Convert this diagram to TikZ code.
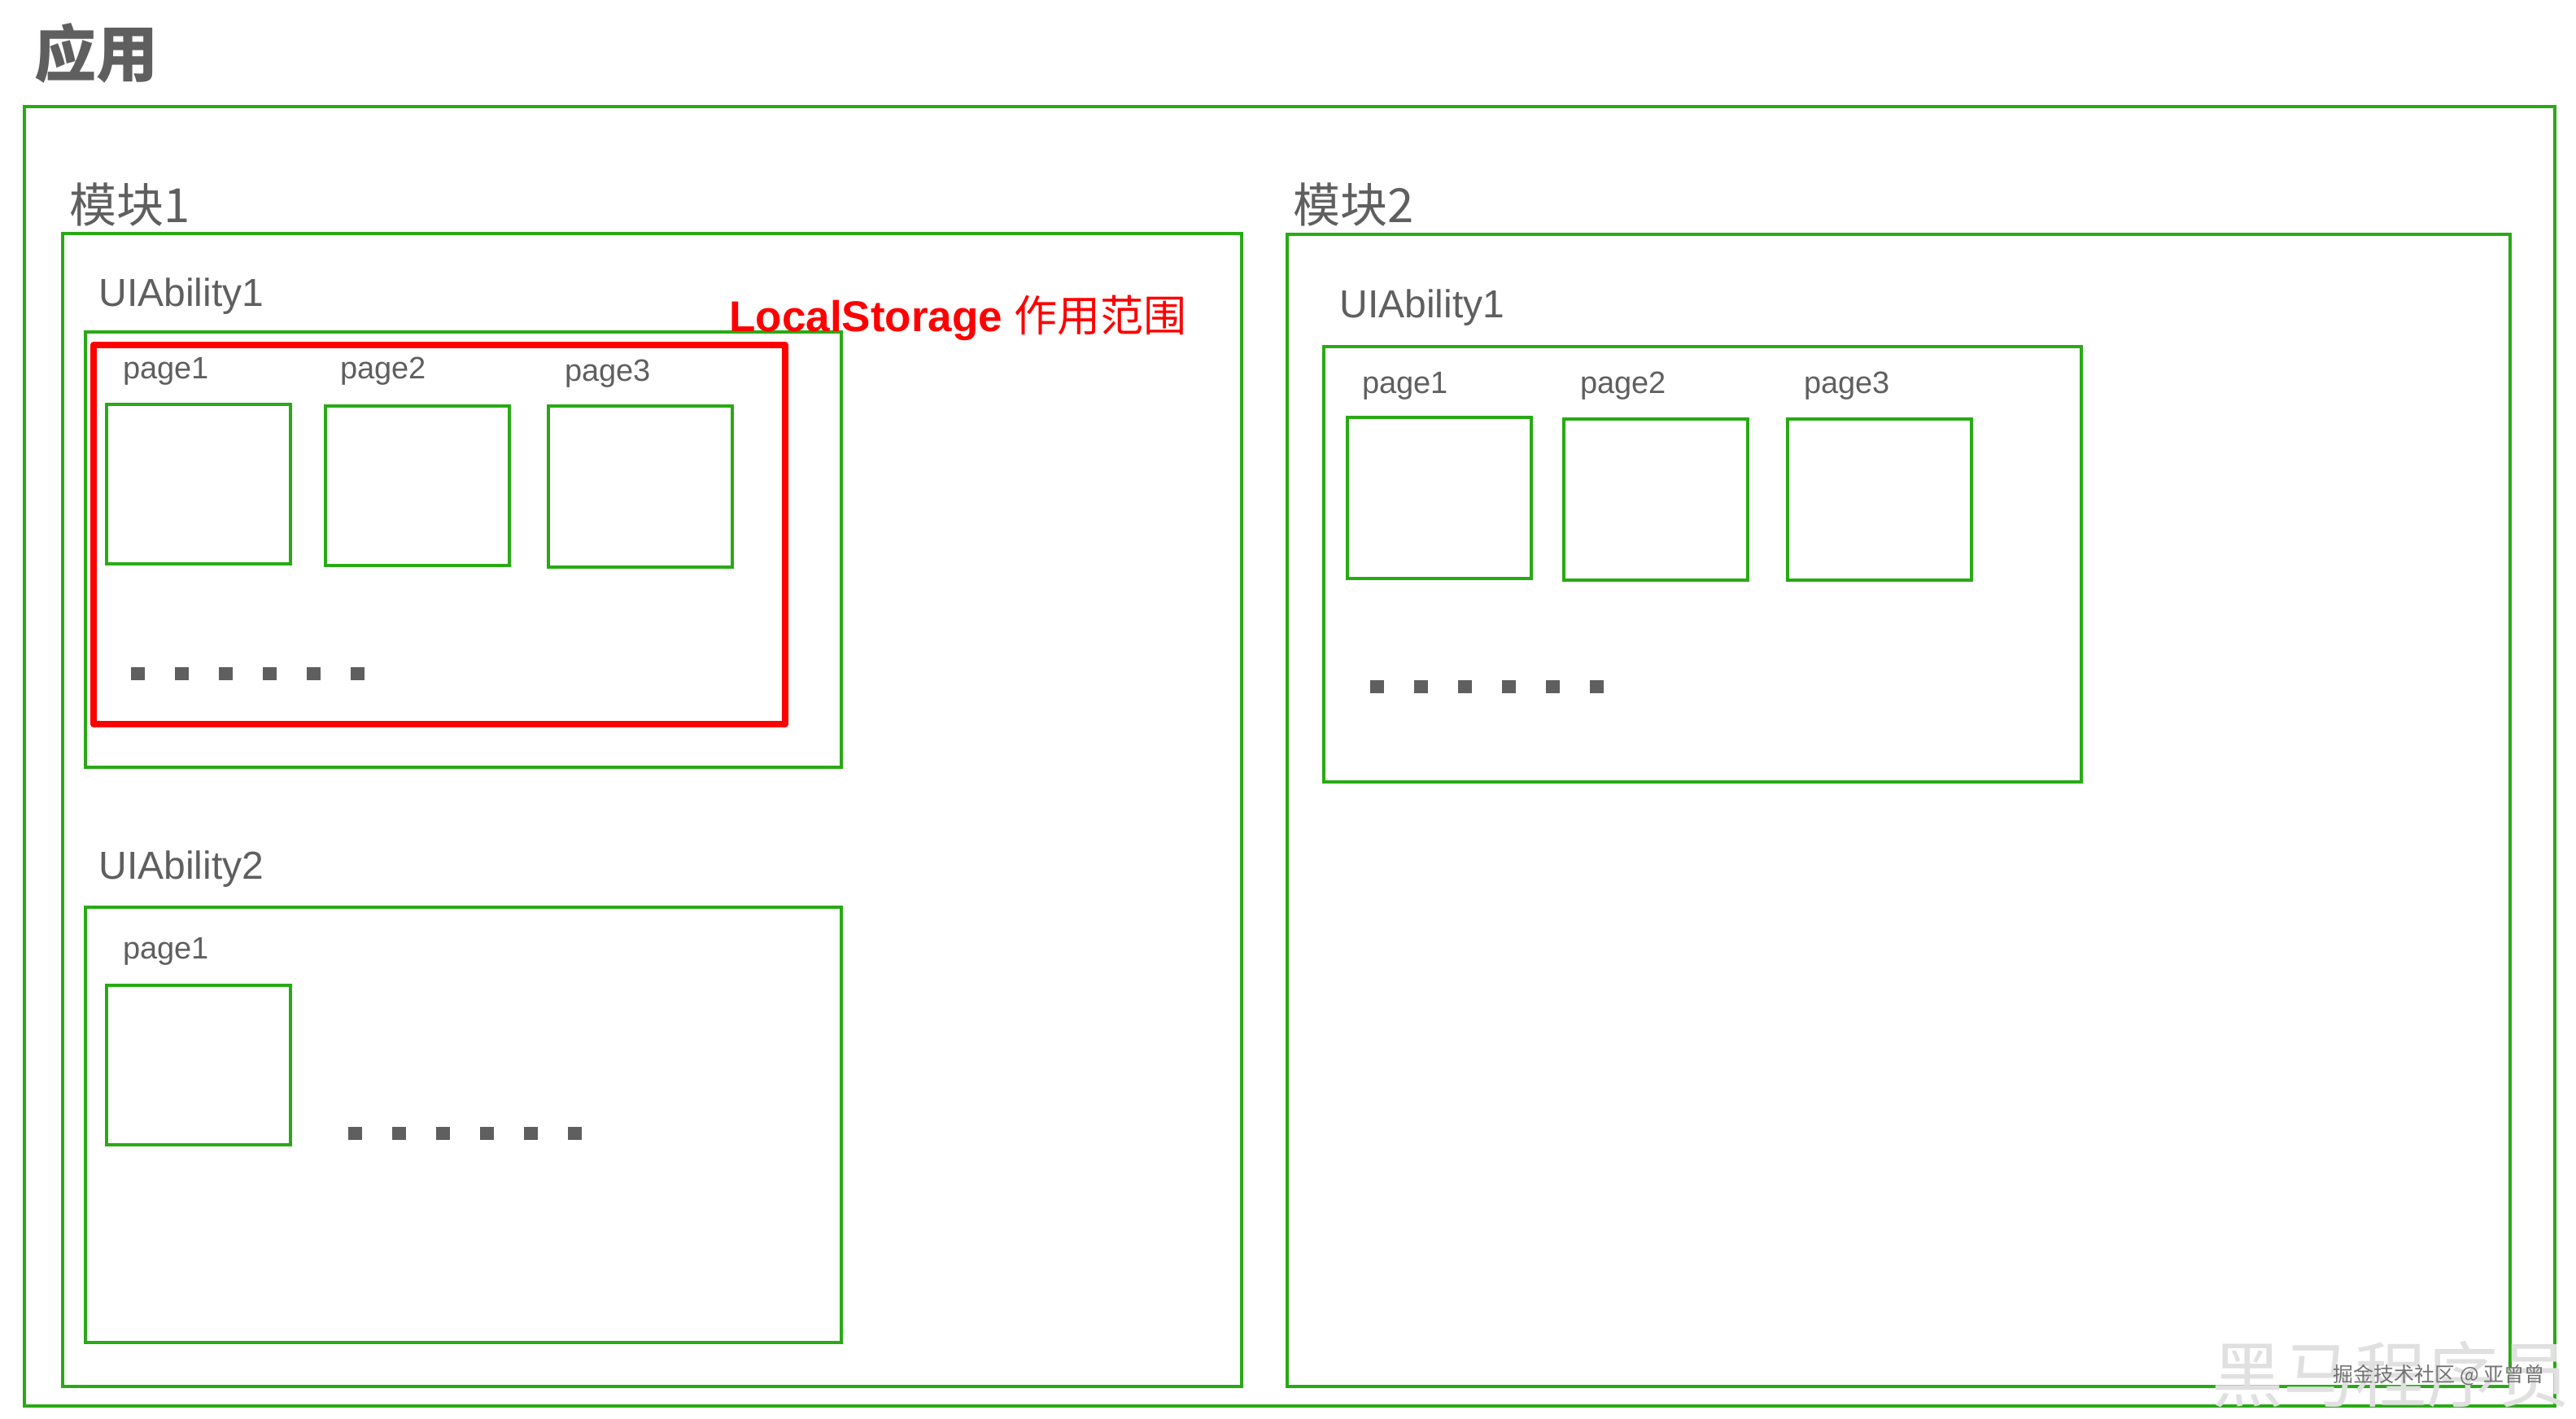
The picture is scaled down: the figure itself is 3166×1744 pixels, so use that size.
\documentclass[tikz,border=0pt]{standalone}
\usepackage{fontspec}
\setmainfont{Liberation Sans}
\newfontfamily\cjk{Noto Sans CJK SC}
\definecolor{grn}{RGB}{40,170,20}
\definecolor{txt}{RGB}{95,95,95}
\definecolor{rd}{RGB}{255,0,0}
\newcommand\fsz[1]{\fontsize{#1}{#1}\selectfont}
\begin{document}
\begin{tikzpicture}[x=0.5pt,y=-0.5pt,
  box/.style={draw=grn,line width=2pt},
  pagebox/.style={draw=grn,line width=1.8pt},
  scopebox/.style={draw=rd,line width=4pt,line join=round},
  lbl/.style={anchor=base west,inner sep=0pt,text=txt},
  dotsq/.style={fill=txt},
  wmbig/.style={anchor=base west,inner sep=0pt,text=black!12,font=\cjk\fsz{44}},
  wmsmall/.style={anchor=base west,inner sep=0pt,text=black!55,font=\cjk\fsz{12.5}}
]
\useasboundingbox (0,0) rectangle (3166,1744);
\fill[white] (0,0) rectangle (3166,1744);

% title
\node[lbl,font=\cjk\bfseries\fsz{38}] (title) at (42,95) {应用};

% application box
\draw[box] (30,131) rectangle (3140,1728);

% module 1
\node[lbl,font=\cjk\fsz{29}] (m1) at (85,274) {模块1};
\draw[box] (77,287) rectangle (1526,1704);

% module 1 - UIAbility1
\node[lbl,font=\fsz{24}] (u11) at (121,377) {UIAbility1};
\draw[box] (105,408) rectangle (1034,943);
\node[lbl,font=\fsz{19}] (p111) at (151,465) {page1};
\node[lbl,font=\fsz{19}] (p112) at (418,465) {page2};
\node[lbl,font=\fsz{19}] (p113) at (694,468) {page3};
\draw[pagebox] (131,497) rectangle (357,693);
\draw[pagebox] (400,499) rectangle (626,695);
\draw[pagebox] (674,499) rectangle (900,697);
\foreach \i in {0,...,5} \fill[dotsq] (161+54*\i,820) rectangle ++(17,16);

% LocalStorage scope
\draw[scopebox] (115,424) rectangle (965,890);
\node[anchor=base west,inner sep=0pt,text=rd] (ls) at (896,408)
  {\fsz{26.5}\bfseries LocalStorage \mdseries\cjk 作用范围};

% module 1 - UIAbility2
\node[lbl,font=\fsz{24}] (u12) at (121,1080) {UIAbility2};
\draw[box] (105,1115) rectangle (1034,1650);
\node[lbl,font=\fsz{19}] (p121) at (151,1178) {page1};
\draw[pagebox] (131,1211) rectangle (357,1407);
\foreach \i in {0,...,5} \fill[dotsq] (428+54*\i,1385) rectangle ++(17,16);

% module 2
\node[lbl,font=\cjk\fsz{29}] (m2) at (1589,274) {模块2};
\draw[box] (1582,288) rectangle (3085,1704);

% module 2 - UIAbility1
\node[lbl,font=\fsz{24}] (u21) at (1646,391) {UIAbility1};
\draw[box] (1627,426) rectangle (2558,961);
\node[lbl,font=\fsz{19}] (p211) at (1674,483) {page1};
\node[lbl,font=\fsz{19}] (p212) at (1942,483) {page2};
\node[lbl,font=\fsz{19}] (p213) at (2217,483) {page3};
\draw[pagebox] (1656,513) rectangle (1882,711);
\draw[pagebox] (1922,515) rectangle (2148,713);
\draw[pagebox] (2197,515) rectangle (2423,713);
\foreach \i in {0,...,5} \fill[dotsq] (1684+54*\i,836) rectangle ++(17,16);

% watermark
\node[wmbig] (wm1) at (2718,1722) {黑马程序员};
\node[wmsmall] (wm2) at (2867,1698) {掘金技术社区 @ 亚曾曾};
\end{tikzpicture}
\end{document}
